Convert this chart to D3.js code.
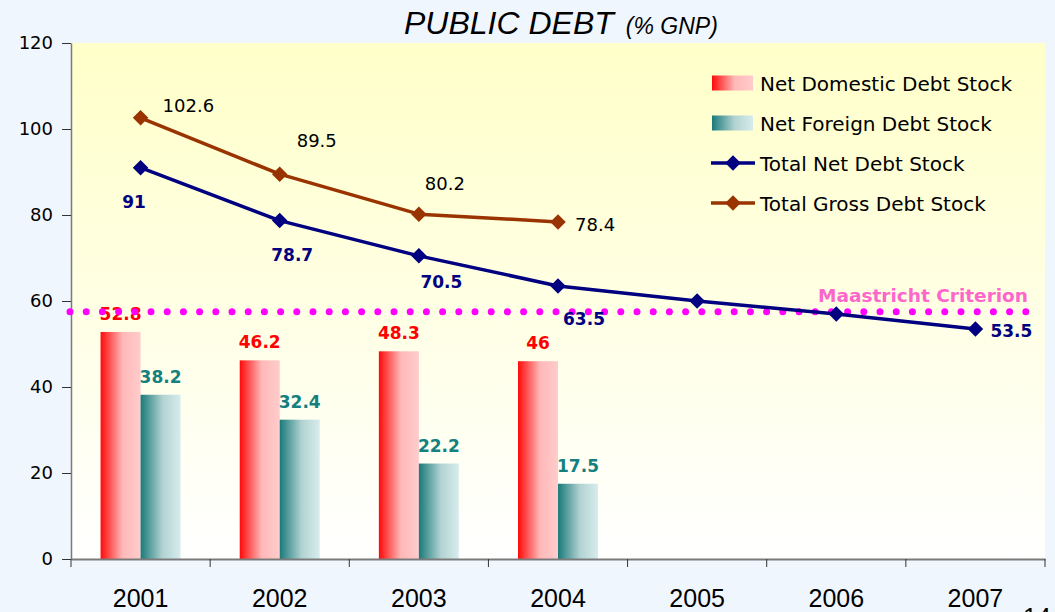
<!DOCTYPE html>
<html>
<head>
<meta charset="utf-8">
<script src="https://cdn.jsdelivr.net/npm/d3@7"></script>
<style>
  html, body { margin: 0; padding: 0; background: #f0f6fe; }
  svg { display: block; }
</style>
</head>
<body>
<svg id="chart" width="1055" height="612"></svg>
<script>
// ---- data ----
const years = ["2001", "2002", "2003", "2004", "2005", "2006", "2007"];
const netDomestic = [52.8, 46.2, 48.3, 46];
const netForeign = [38.2, 32.4, 22.2, 17.5];
const totalNet = [91, 78.7, 70.5, 63.5, 60, 57, 53.5];
const totalGross = [102.6, 89.5, 80.2, 78.4];
const maastricht = 57.5;
const yTicks = [0, 20, 40, 60, 80, 100, 120];
const seriesNames = ["Net Domestic Debt Stock", "Net Foreign Debt Stock", "Total Net Debt Stock", "Total Gross Debt Stock"];

// ---- layout ----
const svg = d3.select("#chart");
const L = 71, R = 1045, T = 43, B = 559;
const x = d3.scaleBand().domain(years).range([L, R]).padding(0);
const y = d3.scaleLinear().domain([0, 120]).range([B, T]);
const bw = x.bandwidth();
const barW = 40;
const cx = d => x(d) + bw / 2;

const defs = svg.append("defs");
const bgGrad = defs.append("linearGradient").attr("id", "bg").attr("x1", 0).attr("y1", 0).attr("x2", 0).attr("y2", 1);
bgGrad.append("stop").attr("offset", 0).attr("stop-color", "#ffffc9");
bgGrad.append("stop").attr("offset", 1).attr("stop-color", "#ffffff");
function hGrad(id, stops) {
  const g = defs.append("linearGradient").attr("id", id).attr("x1", 0).attr("y1", 0).attr("x2", 1).attr("y2", 0);
  stops.forEach(s => g.append("stop").attr("offset", s[0]).attr("stop-color", s[1]));
}
hGrad("gDom", [[0, "#ff0a0a"], [0.55, "#ffb8b8"], [1, "#ffcccc"]]);
hGrad("gFor", [[0, "#1a7a7a"], [0.55, "#b2d2d2"], [1, "#d8ecec"]]);

// background
svg.append("rect").attr("x", 0).attr("y", 0).attr("width", 1055).attr("height", 612).attr("fill", "#f0f6fe");
svg.append("rect").attr("x", L).attr("y", T).attr("width", R - L).attr("height", B - T).attr("fill", "url(#bg)");

// title
const title = svg.append("text").attr("x", 404).attr("y", 34)
  .attr("font-family", "Liberation Sans, Arial, sans-serif").attr("font-style", "italic").attr("fill", "#000");
title.append("tspan").attr("font-size", 32).text("PUBLIC DEBT");
title.append("tspan").attr("font-size", 23).attr("dx", 12).text("(% GNP)");

// bars
svg.append("g").selectAll("rect").data(netDomestic).join("rect")
  .attr("x", (d, i) => cx(years[i]) - barW).attr("y", d => y(d))
  .attr("width", barW).attr("height", d => B - y(d)).attr("fill", "url(#gDom)");
svg.append("g").selectAll("rect").data(netForeign).join("rect")
  .attr("x", (d, i) => cx(years[i])).attr("y", d => y(d))
  .attr("width", barW).attr("height", d => B - y(d)).attr("fill", "url(#gFor)");

// bar labels
const boldFont = "DejaVu Sans, Verdana, sans-serif";
svg.append("g").selectAll("text").data(netDomestic).join("text")
  .attr("x", (d, i) => cx(years[i]) - barW / 2).attr("y", d => y(d) - 12)
  .attr("text-anchor", "middle").attr("font-family", boldFont).attr("font-weight", "bold")
  .attr("font-size", 17).attr("fill", "#ff0000").text(d => d);
svg.append("g").selectAll("text").data(netForeign).join("text")
  .attr("x", (d, i) => cx(years[i]) + barW / 2).attr("y", d => y(d) - 12)
  .attr("text-anchor", "middle").attr("font-family", boldFont).attr("font-weight", "bold")
  .attr("font-size", 17).attr("fill", "#148080").text(d => d);

// axes
const axisColor = "#7a7a7a";
const yAxis = svg.append("g").attr("transform", `translate(${L},0)`)
  .call(d3.axisLeft(y).tickValues(yTicks).tickSize(9).tickSizeOuter(0).tickPadding(9));
yAxis.select(".domain").attr("stroke", axisColor).attr("stroke-width", 1.5);
yAxis.selectAll(".tick line").attr("stroke", "#333");
yAxis.selectAll(".tick text").attr("font-family", "DejaVu Sans, Verdana, sans-serif").attr("font-size", 18).attr("fill", "#000");

const xAxis = svg.append("g").attr("transform", `translate(0,${B})`)
  .call(d3.axisBottom(x).tickSize(0).tickPadding(43));
xAxis.select(".domain").attr("stroke", axisColor).attr("stroke-width", 2);
xAxis.selectAll(".tick text").attr("font-family", "Liberation Sans, Arial, sans-serif").attr("font-size", 25).attr("fill", "#000").attr("dy", "0.2em");
svg.append("g").selectAll("line").data(years.concat(["end"])).join("line")
  .attr("x1", (d, i) => i < years.length ? x(d) : R).attr("x2", (d, i) => i < years.length ? x(d) : R)
  .attr("y1", B).attr("y2", B + 8).attr("stroke", "#333").attr("stroke-width", 1);

// Maastricht dotted line
svg.append("line").attr("x1", L - 1).attr("x2", R - 10).attr("y1", y(maastricht)).attr("y2", y(maastricht))
  .attr("stroke", "#ff00ff").attr("stroke-width", 7).attr("stroke-linecap", "round")
  .attr("stroke-dasharray", "0 16.2");
svg.append("text").attr("x", 1028).attr("y", y(maastricht) - 10).attr("text-anchor", "end")
  .attr("font-family", boldFont).attr("font-weight", "bold").attr("font-size", 18.5)
  .attr("fill", "#ff66cc").text("Maastricht Criterion");

// lines
const diamond = d3.symbol().type(d3.symbolSquare).size(120);
function drawLine(vals, color) {
  const pts = vals.map((v, i) => [cx(years[i]), y(v)]);
  svg.append("path").attr("d", d3.line()(pts)).attr("fill", "none")
    .attr("stroke", color).attr("stroke-width", 3.5).attr("stroke-linejoin", "round");
  svg.append("g").selectAll("path").data(pts).join("path")
    .attr("d", diamond).attr("transform", p => `translate(${p[0]},${p[1]}) rotate(45)`).attr("fill", color);
  return pts;
}
const grossPts = drawLine(totalGross, "#993300");
const netPts = drawLine(totalNet, "#000080");

// line labels (manual placements as in source)
const netLabelLayout = [[-6.5, 40, "middle"], [12.5, 40, "middle"], [22.5, 32, "middle"], [26, 39, "middle"], null, null, [15, 8, "start"]];
const netLabelIdx = totalNet.map((d, i) => i).filter(i => netLabelLayout[i]);
svg.append("g").selectAll("text").data(netLabelIdx).join("text")
  .attr("x", i => netPts[i][0] + netLabelLayout[i][0])
  .attr("y", i => netPts[i][1] + netLabelLayout[i][1])
  .attr("text-anchor", i => netLabelLayout[i][2])
  .attr("font-family", boldFont).attr("font-weight", "bold").attr("font-size", 17).attr("fill", "#000080")
  .text(i => totalNet[i]);
const grossLabelLayout = [[22, -6], [17, -27], [6, -24], [17, 9]];
svg.append("g").selectAll("text").data(totalGross).join("text")
  .attr("x", (d, i) => grossPts[i][0] + grossLabelLayout[i][0])
  .attr("y", (d, i) => grossPts[i][1] + grossLabelLayout[i][1])
  .attr("font-family", "DejaVu Sans, Verdana, sans-serif").attr("font-size", 18).attr("fill", "#000")
  .text(d => d);

// legend
const lg = svg.append("g");
const rowY = [83, 123, 163, 203];
seriesNames.forEach((name, i) => {
  const yy = rowY[i];
  if (i < 2) {
    lg.append("rect").attr("x", 712).attr("y", yy - 7.5).attr("width", 41).attr("height", 15)
      .attr("fill", i === 0 ? "url(#gDom)" : "url(#gFor)");
  } else {
    const c = i === 2 ? "#000080" : "#993300";
    lg.append("line").attr("x1", 711).attr("x2", 755).attr("y1", yy).attr("y2", yy).attr("stroke", c).attr("stroke-width", 3.5);
    lg.append("path").attr("d", diamond).attr("transform", `translate(733,${yy}) rotate(45)`).attr("fill", c);
  }
  lg.append("text").attr("x", 760).attr("y", yy + 7.5).attr("font-family", "DejaVu Sans, Verdana, sans-serif")
    .attr("font-size", 20).attr("fill", "#000").text(name);
});

// page number (cut off at the bottom edge, as in the source)
svg.append("text").attr("x", 1023).attr("y", 626).attr("font-family", "Liberation Sans, Arial, sans-serif")
  .attr("font-size", 25).attr("fill", "#000").text("14");
</script>
</body>
</html>
